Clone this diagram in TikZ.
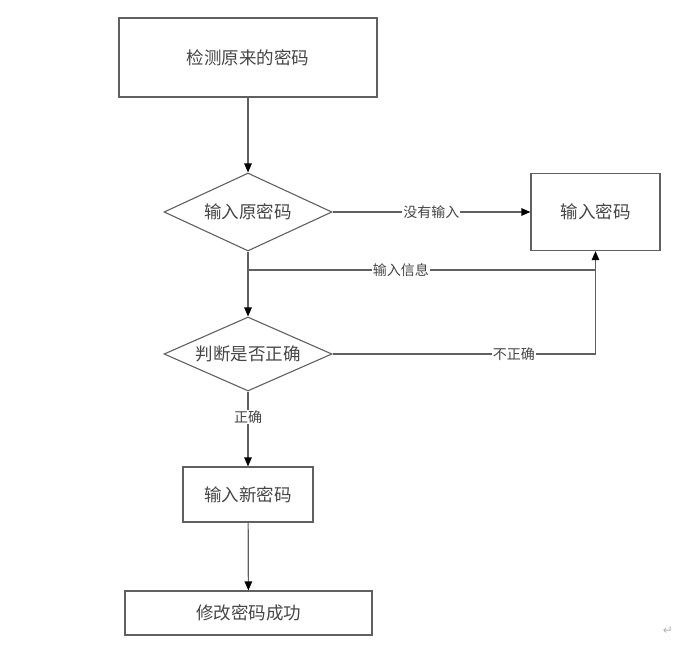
\documentclass[tikz,border=0pt]{standalone}
\usepackage{fontspec}
\setmainfont{Noto Sans CJK SC}
\newfontfamily\symfont{DejaVu Sans}
\usetikzlibrary{shapes.geometric, positioning, arrows.meta, calc}
\definecolor{linegray}{HTML}{606060}
\definecolor{textgray}{HTML}{454545}
\tikzset{
  process/.style={rectangle, draw=linegray, line width=1.2pt, text=textgray, inner sep=0pt, font=\fontsize{17.5}{19}\selectfont},
  decision/.style={diamond, aspect=2.2, draw=linegray, line width=1.1pt, text=textgray, inner sep=0pt, minimum width=168pt, minimum height=78pt, font=\fontsize{17.5}{19}\selectfont},
  arrow/.style={line width=1.2pt, draw=linegray, -{Triangle[length=9pt,width=7.5pt,fill=black,color=black]}},
  line/.style={line width=1.2pt, draw=linegray},
  lbl/.style={fill=white, text=textgray, inner sep=1pt, font=\fontsize{14}{16}\selectfont}
}
\begin{document}
\begin{tikzpicture}[x=1pt, y=-1pt]
    \useasboundingbox (0,0) rectangle (693,647);
    \node (check) [process, minimum width=258pt, minimum height=79pt] at (248,57.5) {检测原来的密码};
    \node (inold) [decision] at (248,212) {输入原密码};
    \node (inpwd) [process, minimum width=129pt, minimum height=77pt] at (595.5,212) {输入密码};
    \node (judge) [decision, minimum height=74pt] at (248,354) {判断是否正确};
    \node (innew) [process, minimum width=130pt, minimum height=55pt] at (248,494.5) {输入新密码};
    \node (done) [process, minimum width=247pt, minimum height=44pt] at (248.5,613) {修改密码成功};
    \coordinate (split) at (248,270);
    \node (mark) [text=gray!60, font=\symfont\fontsize{12}{14}\selectfont] at (668,631) {↵};

    \draw [arrow] (check) -- (inold);
    \draw [arrow] (inold.east) -- node[lbl] {没有输入} (inpwd.west);
    \draw [arrow] (inold.south) -- (judge.north);
    \draw [line] (split) -- node[lbl, pos=0.44] {输入信息} (split -| inpwd.south);
    \draw [arrow] (judge.east) -- node[lbl, pos=0.69] {不正确} (judge.east -| inpwd.south) -- (inpwd.south);
    \draw [arrow] (judge.south) -- node[lbl, pos=0.34] {正确} (innew.north);
    \draw [arrow] (innew) -- (done);
\end{tikzpicture}
\end{document}
